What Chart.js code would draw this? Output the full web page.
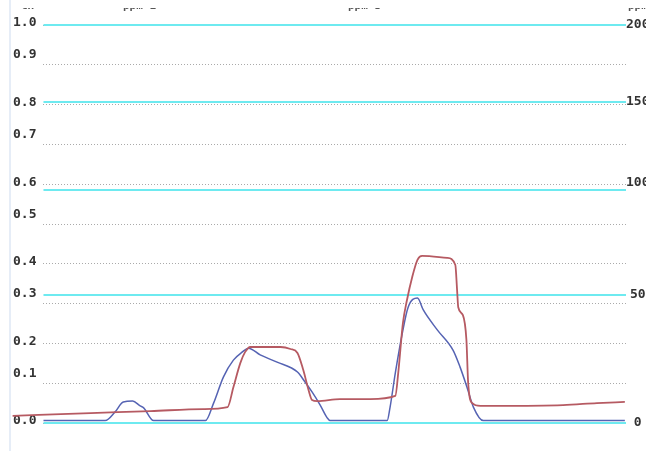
<!DOCTYPE html>
<html>
<head>
<meta charset="utf-8">
<script src="https://cdn.jsdelivr.net/npm/chart.js@4.4.1/dist/chart.umd.min.js"></script>
<style>
  html, body { margin: 0; padding: 0; background: #fff; overflow: hidden; width: 646px; height: 451px; }
  #wrap { position: relative; width: 646px; height: 451px; overflow: hidden; }
  #myChart { position: absolute; left: 0; top: 0; }
  #marco { position: absolute; left: 9px; top: 0; width: 2px; height: 451px; background: #e6edf7; }
</style>
</head>
<body>
<div id="wrap">
  <div id="marco"></div>
  <canvas id="myChart" width="660" height="451"></canvas>
</div>
<script>
// datos (x = tiempo 0..100, y = escala izquierda 0..1)
const tiempoRojo = [-5.3, 8.1, 18.4, 27.4, 31.6, 32.6, 33.8, 34.6, 35.5, 40.7, 42.4, 43.6, 44.6, 45.5, 46.1, 47.0, 50.9, 56.1, 60.4, 60.9, 61.7, 62.4, 63.3, 64.2, 65.0, 69.3, 70.7, 71.0, 71.2, 72.0, 72.6, 72.9, 73.6, 75.0, 77.9, 89.2, 95.0, 99.8];
const valoresRojo = [0.018, 0.025, 0.030, 0.035, 0.040, 0.090, 0.151, 0.178, 0.191, 0.191, 0.186, 0.176, 0.133, 0.083, 0.058, 0.055, 0.060, 0.060, 0.068, 0.126, 0.251, 0.309, 0.367, 0.410, 0.420, 0.415, 0.397, 0.334, 0.291, 0.271, 0.209, 0.101, 0.050, 0.043, 0.043, 0.045, 0.050, 0.053];
const tiempoAzul = [0, 10.6, 12.3, 13.7, 15.3, 16.6, 17.2, 18.9, 27.8, 29.2, 30.9, 32.6, 34.1, 35.2, 37.2, 40.1, 43.6, 44.9, 46.1, 47.5, 48.7, 49.2, 59.0, 59.5, 60.4, 61.6, 62.6, 64.2, 65.2, 67.6, 70.3, 71.5, 72.7, 73.8, 75.5, 99.8];
const valoresAzul = [0.006, 0.006, 0.028, 0.053, 0.055, 0.043, 0.038, 0.006, 0.006, 0.050, 0.116, 0.158, 0.178, 0.188, 0.171, 0.153, 0.128, 0.103, 0.078, 0.045, 0.013, 0.006, 0.006, 0.040, 0.126, 0.226, 0.291, 0.314, 0.284, 0.234, 0.183, 0.141, 0.090, 0.040, 0.006, 0.006];
const ticksDerecha = [0, 50, 100, 150, 200];
const titulos = ['CH', 'ppm 1', 'ppm 3', 'ppm'];

// escala derecha: no es lineal, sigue log2(1 + v/max)
class EscalaLog2 extends Chart.LinearScale {
    getPixelForValue(value) {
        if (value === null) return NaN;
        const t = Math.log(1 + (value - this.min) / (this.max - this.min)) / Math.LN2;
        return this.getPixelForDecimal(t);
    }
    getValueForPixel(pixel) {
        const t = this.getDecimalForPixel(pixel);
        return this.min + (Math.pow(2, t) - 1) * (this.max - this.min);
    }
}
EscalaLog2.id = 'log2offset';
EscalaLog2.defaults = Chart.LinearScale.defaults;
Chart.register(EscalaLog2);

function puntos(xs, ys) {
    return xs.map((x, i) => ({ x: x, y: ys[i] }));
}

// textos de cabecera recortados arriba
const cabecera = {
    id: 'cabecera',
    afterDraw(chart) {
        const ctx = chart.ctx;
        const posX = [21, 123, 348, 628];
        ctx.save();
        ctx.beginPath();
        ctx.rect(0, 8, chart.width, 5);
        ctx.clip();
        ctx.fillStyle = '#555';
        ctx.font = 'bold 11px "DejaVu Sans Mono"';
        ctx.textBaseline = 'alphabetic';
        titulos.forEach((t, i) => ctx.fillText(t, posX[i], 9));
        ctx.restore();
    }
};

const fuenteEje = { family: '"DejaVu Sans Mono", monospace', size: 13, weight: 'bold' };

const ctx = document.getElementById('myChart').getContext('2d');
const myChart = new Chart(ctx, {
    type: 'line',
    data: {
        datasets: [{
            label: 'rojo',
            data: puntos(tiempoRojo, valoresRojo),
            borderColor: '#b65a62',
            borderWidth: 1.8,
            pointRadius: 0,
            cubicInterpolationMode: 'monotone',
            clip: false,
            fill: false
        }, {
            label: 'azul',
            data: puntos(tiempoAzul, valoresAzul),
            borderColor: '#5563b3',
            borderWidth: 1.5,
            pointRadius: 0,
            cubicInterpolationMode: 'monotone',
            clip: false,
            fill: false
        }]
    },
    options: {
        responsive: false,
        animation: false,
        layout: { padding: { left: 6, right: 10.5, top: 25, bottom: 28 } },
        plugins: { legend: { display: false }, tooltip: { enabled: false } },
        scales: {
            x: {
                type: 'linear',
                min: 0,
                max: 100,
                display: false
            },
            y: {
                type: 'linear',
                position: 'left',
                min: 0,
                max: 1,
                ticks: {
                    stepSize: 0.1,
                    padding: 7,
                    labelOffset: -2,
                    color: '#333',
                    font: fuenteEje,
                    callback: function (v, i) {
                        const txt = v.toFixed(1);
                        return i % 2 === 1 ? [txt, ''] : txt;
                    }
                },
                grid: { color: '#aaaaaa', lineWidth: 1, drawTicks: false },
                border: { display: false, dash: [1, 2] }
            },
            y2: {
                type: 'log2offset',
                position: 'right',
                min: 0,
                max: 200,
                afterBuildTicks: function (axis) {
                    axis.ticks = ticksDerecha.map(v => ({ value: v }));
                },
                ticks: {
                    padding: 0,
                    crossAlign: 'center',
                    color: '#333',
                    font: fuenteEje,
                    callback: function (v, i) {
                        return i === 2 ? [String(v), ''] : String(v);
                    }
                },
                grid: { color: '#6eeaf0', lineWidth: 2, drawTicks: false },
                border: { display: false }
            }
        }
    },
    plugins: [cabecera]
});
</script>
</body>
</html>
